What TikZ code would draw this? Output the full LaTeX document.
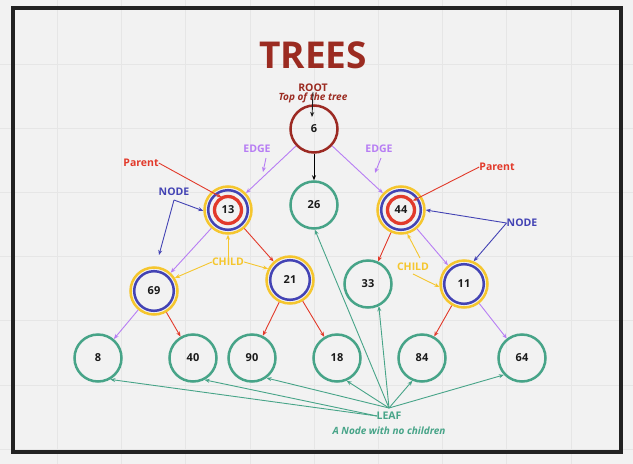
\documentclass[tikz,border=0pt]{standalone}
\usepackage{fontspec}
\setmainfont{Open Sans}
\usetikzlibrary{arrows.meta,calc}
\definecolor{bgc}{HTML}{F2F2F2}
\definecolor{gridc}{HTML}{E6E6E6}
\definecolor{framec}{HTML}{222222}
\definecolor{titlec}{HTML}{9B2B21}
\definecolor{rootc}{HTML}{9C2A23}
\definecolor{tealc}{HTML}{47A488}
\definecolor{purc}{HTML}{B77DF4}
\definecolor{redc}{HTML}{E23A2B}
\definecolor{bluec}{HTML}{4343B4}
\definecolor{yelc}{HTML}{F5C62E}
\definecolor{numc}{HTML}{1A1A1A}
\tikzset{
  numfont/.style={font=\bfseries\fontsize{11}{13}\selectfont, text=numc},
  tnode/.style={circle, draw=tealc, line width=2.5pt, minimum size=47pt, inner sep=0pt, numfont},
  rnode/.style={circle, draw=rootc, line width=2.5pt, minimum size=47pt, inner sep=0pt, numfont},
  ynode/.style={circle, draw=yelc, line width=2.5pt, minimum size=47pt, inner sep=0pt, numfont},
  bring/.style={draw=bluec, line width=2.5pt},
  rring/.style={draw=redc, line width=3.3pt},
  arr/.style={-{Stealth[length=5pt,width=4pt]}, line width=0.9pt},
  lbl/.style={font=\bfseries\fontsize{10.5}{12}\selectfont, inner sep=0pt},
  ilbl/.style={font=\bfseries\itshape\fontsize{10}{12}\selectfont, inner sep=0pt},
}
\begin{document}
\begin{tikzpicture}[x=1pt,y=1pt]
\useasboundingbox (0,0) rectangle (633,-464);
\fill[bgc] (0,0) rectangle (633,-464);
\foreach \gx in {57,121,185,250,314,378,442,506,571}
  \draw[gridc, line width=0.8pt] (\gx,0) -- (\gx,-464);
\foreach \gy in {64,128,192,256,320,385,449}
  \draw[gridc, line width=0.8pt] (0,-\gy) -- (633,-\gy);
\draw[framec, line width=3.2pt] (13,-8) rectangle (621,-452);

% title
\node[font=\bfseries\fontsize{37}{42}\selectfont, text=titlec] (title) at (313,-55) {TREES};

% tree nodes
\node[rnode] (n6) at (314,-129) {6};
\node[tnode] (n26) at (314,-205) {26};
\node[ynode] (n13) at (228,-210) {13};
\draw[bring] (n13.center) circle (19.8);
\draw[rring] (n13.center) circle (13.5);
\node[ynode] (n44) at (401,-210) {44};
\draw[bring] (n44.center) circle (19.8);
\draw[rring] (n44.center) circle (13.5);
\node[ynode] (n69) at (154,-291) {69};
\draw[bring] (n69.center) circle (19.8);
\node[ynode] (n21) at (290,-280) {21};
\draw[bring] (n21.center) circle (19.8);
\node[tnode] (n33) at (368,-284) {33};
\node[ynode] (n11) at (464,-284) {11};
\draw[bring] (n11.center) circle (19.8);
\node[tnode] (n8) at (98,-358) {8};
\node[tnode] (n40) at (193,-358) {40};
\node[tnode] (n90) at (252,-358) {90};
\node[tnode] (n18) at (337,-358) {18};
\node[tnode] (n84) at (422,-358) {84};
\node[tnode] (n64) at (522,-358) {64};

% edges
\draw[arr] (n6) -- (n26);
\draw[arr, purc] (n6) -- (n13);
\draw[arr, purc] (n6) -- (n44);
\draw[arr, purc] (n13) -- (n69);
\draw[arr, redc] (n13) -- (n21);
\draw[arr, redc] (n44) -- (n33);
\draw[arr, purc] (n44) -- (n11);
\draw[arr, purc] (n69) -- (n8);
\draw[arr, redc] (n69) -- (n40);
\draw[arr, redc] (n21) -- (n90);
\draw[arr, redc] (n21) -- (n18);
\draw[arr, redc] (n11) -- (n84);
\draw[arr, purc] (n11) -- (n64);

% root label
\node[lbl, text=titlec] (root) at (313,-88) {ROOT};
\node[ilbl, text=titlec] (rootsub) at (313,-98) {Top of the tree};
\coordinate (rootA) at (313,-92);
\coordinate (rootB) at (312,-117);
\draw[arr, numc] (rootA) -- (rootB);

% edge labels
\node[lbl, text=purc] (edgeL) at (257,-149) {EDGE};
\node[lbl, text=purc] (edgeR) at (379,-149) {EDGE};
\coordinate (edgeLa) at (266,-158);
\coordinate (edgeLb) at (263,-172);
\coordinate (edgeRa) at (381,-158);
\coordinate (edgeRb) at (375,-173);
\draw[arr, purc] (edgeLa) -- (edgeLb);
\draw[arr, purc] (edgeRa) -- (edgeRb);

% parent labels
\node[lbl, text=redc] (parL) at (141,-163) {Parent};
\node[lbl, text=redc] (parR) at (497,-167) {Parent};
\draw[arr, redc] (parL.east) -- ([shift={(117:14)}]n13.center);
\draw[arr, redc] (parR.west) -- ([shift={(38:15)}]n44.center);

% node labels
\node[lbl, text=bluec] (nodeL) at (174,-192) {NODE};
\node[lbl, text=bluec] (nodeR) at (522,-223) {NODE};
\coordinate (nodeLv) at (174,-200);
\coordinate (nodeLe) at (159,-255);
\draw[arr, bluec] (nodeLv) -- (n13.182);
\draw[arr, bluec] (nodeLv) -- (nodeLe);
\draw[arr, bluec] (nodeR.west) -- (n44.0);
\draw[arr, bluec] (nodeR.west) -- (n11.67);

% child labels
\node[lbl, text=yelc] (childL) at (228,-262) {CHILD};
\node[lbl, text=yelc] (childR) at (413,-267) {CHILD};
\draw[arr, yelc] (childL.north) -- (n13.south);
\draw[arr, yelc] (childL.west) -- (n69.32);
\draw[arr, yelc] (childL.east) -- (n21.153);
\coordinate (childRa) at (420,-258);
\coordinate (childRb) at (413,-274);
\draw[arr, yelc] (childRa) -- (n44.-75);
\draw[arr, yelc] (childRb) -- (n11.187);

% leaf labels
\node[lbl, text=tealc] (leaf) at (389,-416) {LEAF};
\node[ilbl, text=tealc] (leafsub) at (389,-431) {A Node with no children};
\coordinate (leafA) at (389,-408);
\coordinate (leafB) at (377,-416);
\draw[arr, tealc] (leafB) -- (n8.-60);
\draw[arr, tealc] (leafB) -- (n40.-62);
\draw[arr, tealc] (leafA) -- (n90.-54);
\draw[arr, tealc] (leafA) -- (n18.-67);
\draw[arr, tealc] (leafA) -- (n84.-113);
\draw[arr, tealc] (leafA) -- (n64.-137);
\draw[arr, tealc] (leafA) -- (n33.-64);
\draw[arr, tealc] (leafA) -- (n26.-88);
\end{tikzpicture}
\end{document}
